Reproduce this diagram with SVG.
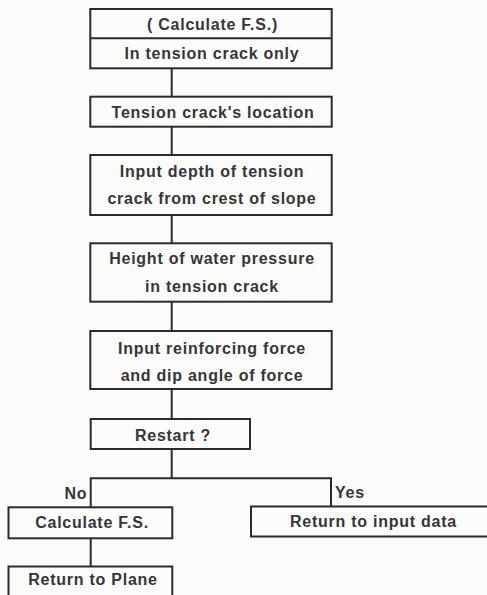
<svg xmlns="http://www.w3.org/2000/svg" width="487" height="595" viewBox="0 0 487 595">
  <style>
    .box { fill: none; stroke: #2b2b2b; stroke-width: 2; }
    .wire { fill: none; stroke: #2b2b2b; stroke-width: 2; }
    text { font-family: "Liberation Sans", Arial, sans-serif; font-size: 16px; font-weight: bold; fill: #363636; letter-spacing: 0.75px; text-anchor: middle; }
    .lbl { text-anchor: start; }
  </style>
  <rect width="487" height="595" fill="#fbfbf9"/>

  <!-- connectors -->
  <g id="connectors">
    <line class="wire" x1="171.7" y1="68.3" x2="171.7" y2="96.7"/>
    <line class="wire" x1="171.7" y1="126.7" x2="171.7" y2="155"/>
    <line class="wire" x1="171.7" y1="215" x2="171.7" y2="243.3"/>
    <line class="wire" x1="171.7" y1="301.7" x2="171.7" y2="331"/>
    <line class="wire" x1="171.7" y1="389" x2="171.7" y2="419"/>
    <line class="wire" x1="171.7" y1="449" x2="171.7" y2="478.3"/>
    <polyline class="wire" points="90.7,507.3 90.7,478.3 331,478.3 331,507"/>
    <line class="wire" x1="90.7" y1="538.3" x2="90.7" y2="566.5"/>
    <text class="lbl" x="64.5" y="499">No</text>
    <text class="lbl" x="335" y="497.5">Yes</text>
  </g>

  <g id="start">
    <rect class="box" x="90.3" y="9" width="241.4" height="59.3"/>
    <line class="wire" x1="90.3" y1="38.3" x2="331.7" y2="38.3"/>
    <text x="212.5" y="29.5">( Calculate F.S.)</text>
    <text x="212" y="59">In tension crack only</text>
  </g>

  <g id="crack-location">
    <rect class="box" x="90.3" y="96.7" width="241.4" height="30"/>
    <text x="213" y="117.5">Tension crack's location</text>
  </g>

  <g id="crack-depth">
    <rect class="box" x="90.3" y="155" width="241.4" height="60"/>
    <text x="212" y="176.5">Input depth of tension</text>
    <text x="212" y="203.5">crack from crest of slope</text>
  </g>

  <g id="water-height">
    <rect class="box" x="90.3" y="243.3" width="241.4" height="58.4"/>
    <text x="212" y="264">Height of water pressure</text>
    <text x="212" y="292">in tension crack</text>
  </g>

  <g id="reinforcing-force">
    <rect class="box" x="90.3" y="331" width="241.4" height="58"/>
    <text x="212" y="353.5">Input reinforcing force</text>
    <text x="212" y="380.5">and dip angle of force</text>
  </g>

  <g id="restart">
    <rect class="box" x="90.7" y="419" width="159.3" height="30"/>
    <text x="173" y="440.5">Restart ?</text>
  </g>

  <g id="calculate">
    <rect class="box" x="8.5" y="507.3" width="163.8" height="31"/>
    <text x="92" y="528.3">Calculate F.S.</text>
  </g>

  <g id="return-input">
    <rect class="box" x="251" y="506.5" width="244" height="30"/>
    <text x="373.5" y="526.7">Return to input data</text>
  </g>

  <g id="return-plane">
    <rect class="box" x="8.5" y="566.5" width="163.8" height="32"/>
    <text x="93" y="585">Return to Plane</text>
  </g>
</svg>
